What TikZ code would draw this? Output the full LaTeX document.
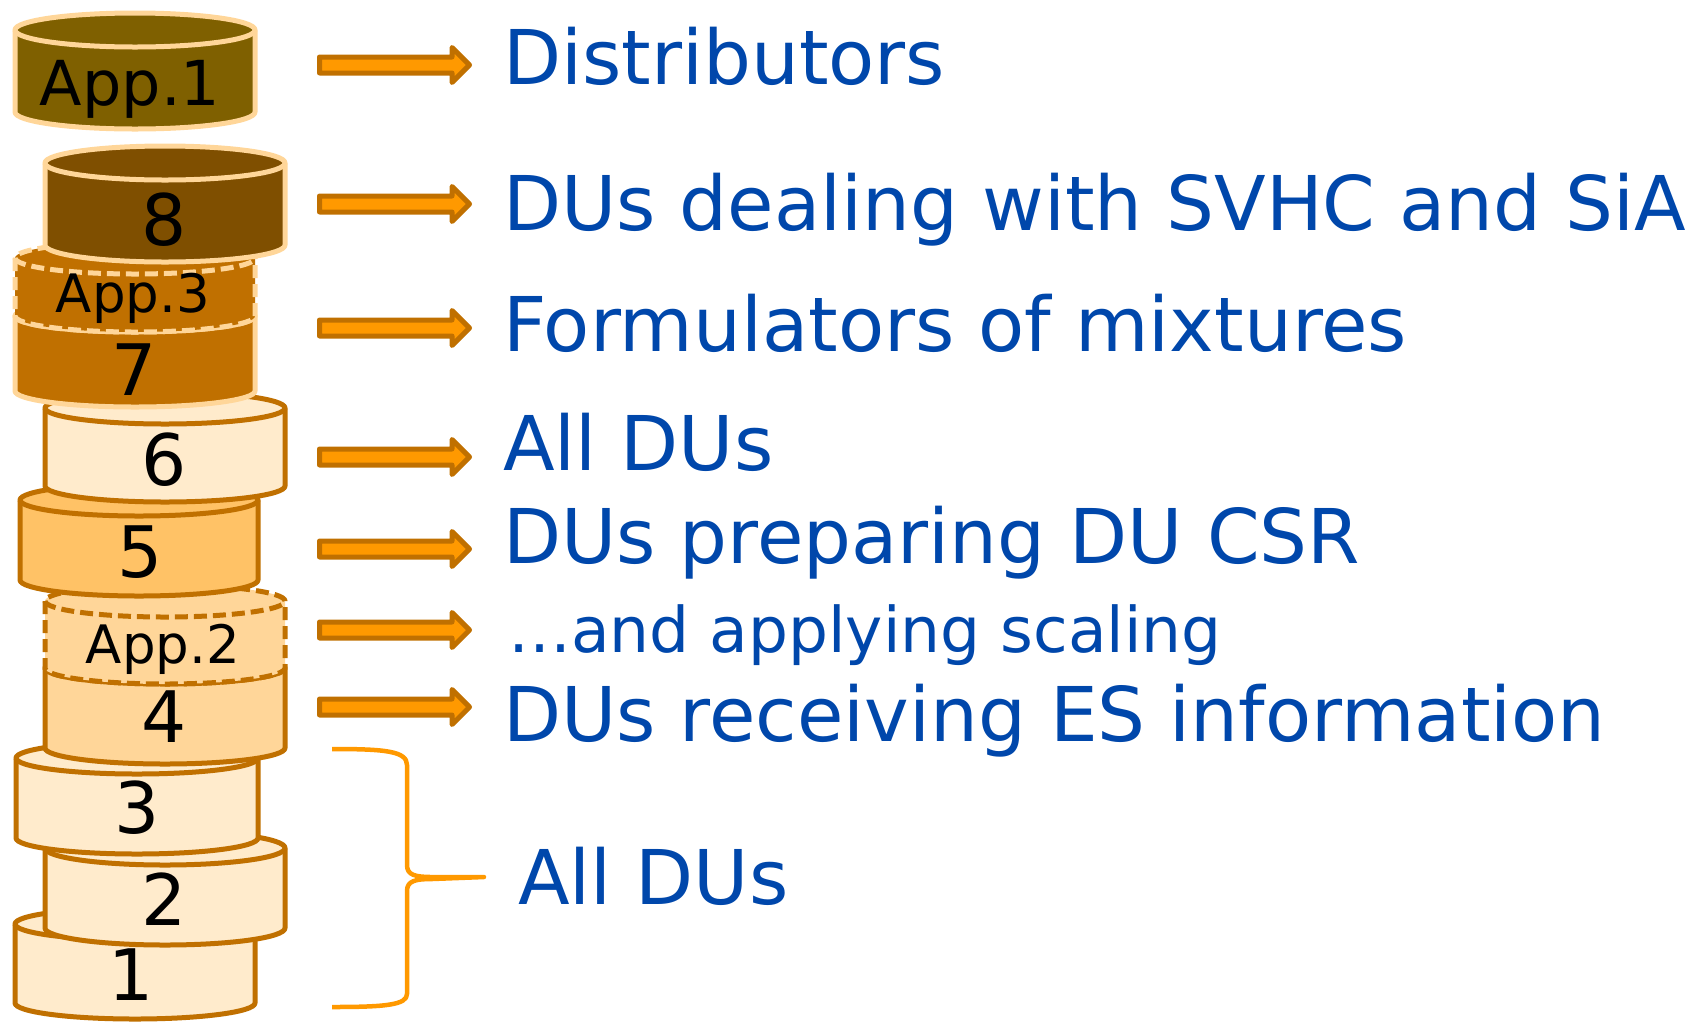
\documentclass[tikz,border=0pt]{standalone}
\usepackage{fontspec}
\setmainfont{DejaVu Sans}
\usetikzlibrary{shapes.arrows}
\definecolor{rim}{HTML}{C07000}
\definecolor{peach}{HTML}{FFD699}
\definecolor{oliv}{HTML}{7F6000}
\definecolor{umber}{HTML}{7F4F00}
\definecolor{cream}{HTML}{FFEBCC}
\definecolor{apricot}{HTML}{FFC266}
\definecolor{sand}{HTML}{FFD699}
\definecolor{amber}{HTML}{FF9900}
\definecolor{dublue}{HTML}{0047AB}
% one drum: centre x, x radius, top y, bottom y, y radius, style
\newcommand{\drum}[6]{%
  \path[#6] ({#1-#2},#3) -- ({#1-#2},#4)
    arc[start angle=180, end angle=360, x radius=#2pt, y radius=#5pt]
    -- ({#1+#2},#3)
    arc[start angle=0, end angle=180, x radius=#2pt, y radius=#5pt] -- cycle;
  \path[#6, fill=none] ({#1-#2},#3)
    arc[start angle=180, end angle=360, x radius=#2pt, y radius=#5pt];
}

\begin{document}
\begin{tikzpicture}[x=1pt, y=-1pt, line join=round,
  lite/.style={draw=rim, line width=5pt, fill=#1},
  dark/.style={draw=peach, line width=5pt, fill=#1},
  num/.style={anchor=base, inner sep=0pt, font=\fontsize{71}{71}\selectfont},
  app/.style={anchor=base, inner sep=0pt, font=\fontsize{53}{53}\selectfont},
  txt/.style={anchor=base west, inner sep=0pt, text=dublue, font=\fontsize{75.5}{75.5}\selectfont},
  arr/.style={single arrow, draw=rim, fill=amber, line width=5pt, anchor=west,
    inner xsep=0pt, inner ysep=5.5pt, minimum height=150pt, minimum width=30pt,
    single arrow head extend=9.5pt}]
  \useasboundingbox (0,0) rectangle (1704,1021);

  % the stack, bottom up
  \drum{135}{120}{924}{1003}{16}{lite=cream}
  \node[num] (c1) at (131,1000) {1};
  \drum{165}{120}{848}{928}{17}{lite=cream}
  \node[num] (c2) at (164,925) {2};
  \drum{137}{121}{758}{838}{16}{lite=cream}
  \node[num] (c3) at (137,833) {3};
  \drum{165}{120}{668}{748}{16}{lite=sand}
  \node[num] (c4) at (164,742) {4};
  \drum{165}{120}{601}{668}{16}{lite=sand, dash pattern=on 13pt off 6pt}
  \node[app] (app2) at (163,663) {App.2};
  \drum{139}{119}{500}{580}{16}{lite=apricot}
  \node[num] (c5) at (140,577) {5};
  \drum{165}{120}{408}{486}{16}{lite=cream}
  \node[num] (c6) at (164,485) {6};
  \drum{135}{120}{316}{391}{16}{dark=rim}
  \node[num] (c7) at (134,395) {7};
  \drum{135}{120}{258}{316}{16}{dark=rim, dash pattern=on 13pt off 6pt}
  \node[app] (app3) at (133,312) {App.3};
  \drum{165}{120}{163}{245}{17}{dark=umber}
  \node[num] (c8) at (164,245) {8};
  \drum{135}{120}{30}{112}{17}{dark=oliv}
  \node[app, font=\fontsize{62}{62}\selectfont] (app1) at (130,105) {App.1};

  % what each layer is for
  \node[txt] (distr) at (503,84) {Distributors};
  \node[txt] (svhc) at (503,230) {DUs dealing with SVHC and SiA};
  \node[txt] (form) at (503,351) {Formulators of mixtures};
  \node[txt] (alldu) at (503,470) {All DUs};
  \node[txt] (csr) at (503,563) {DUs preparing DU CSR};
  \node[txt, font=\fontsize{63}{63}\selectfont] (scal) at (508,652) {…and applying scaling};
  \node[txt] (esinfo) at (503,741) {DUs receiving ES information};
  \node[txt] (alldus) at (518,904) {All DUs};

  \node[arr] (a1) at (317,65) {};
  \node[arr] (a2) at (317,204) {};
  \node[arr] (a3) at (317,328) {};
  \node[arr] (a4) at (317,457) {};
  \node[arr] (a5) at (317,549) {};
  \node[arr] (a6) at (317,630) {};
  \node[arr] (a7) at (317,707) {};

  \draw[amber, line width=4.5pt] (332,749) .. controls (385,749) and (407,751) .. (407,765)
    -- (407,865) .. controls (407,875) and (415,877) .. (432,877) -- (484,877)
    -- (432,879) .. controls (415,879) and (407,881) .. (407,891)
    -- (407,994) .. controls (407,1005) and (385,1007) .. (332,1007);
\end{tikzpicture}
\end{document}
